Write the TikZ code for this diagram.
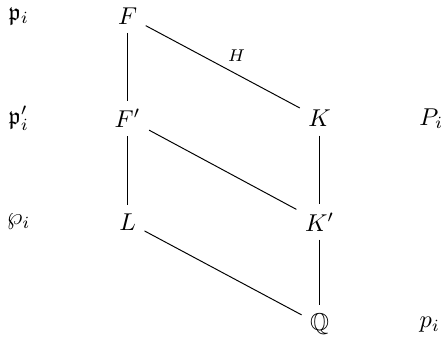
\documentclass[tikz,border=0pt]{standalone}
\usepackage{amsmath, amssymb}
\usepackage{tikz}
\usetikzlibrary{positioning}

\begin{document}
\begin{tikzpicture}[edge/.style={draw, line width=0.4pt}]
    \useasboundingbox (0,-0.22) rectangle (6.36,4.68);
    % fields
    \node (F)  at (1.84,4.45) {$F$};
    \node (Fp) at (1.84,2.97) {$F'$};
    \node (L)  at (1.84,1.48) {$L$};
    \node (K)  at (4.61,2.97) {$K$};
    \node (Kp) at (4.61,1.48) {$K'$};
    \node (Q)  at (4.61,0)    {$\mathbb{Q}$};
    % primes
    \node (pF)  at (0.27,4.45) {$\mathfrak{p}_i$};
    \node (pFp) at (0.27,2.97) {$\mathfrak{p}'_i$};
    \node (pL)  at (0.27,1.48) {$\wp_i$};
    \node (PK)  at (6.22,2.97) {$P_i$};
    \node (pQ)  at (6.20,0)    {$p_i$};
    % edges
    \draw[edge] (F) -- (Fp);
    \draw[edge] (Fp) -- (L);
    \draw[edge] (K) -- (Kp);
    \draw[edge] (Kp) -- (Q);
    \draw[edge] (F) -- node[above right=-2pt] {$\scriptstyle H$} (K);
    \draw[edge] (Fp) -- (Kp);
    \draw[edge] (L) -- (Q);
\end{tikzpicture}
\end{document}
